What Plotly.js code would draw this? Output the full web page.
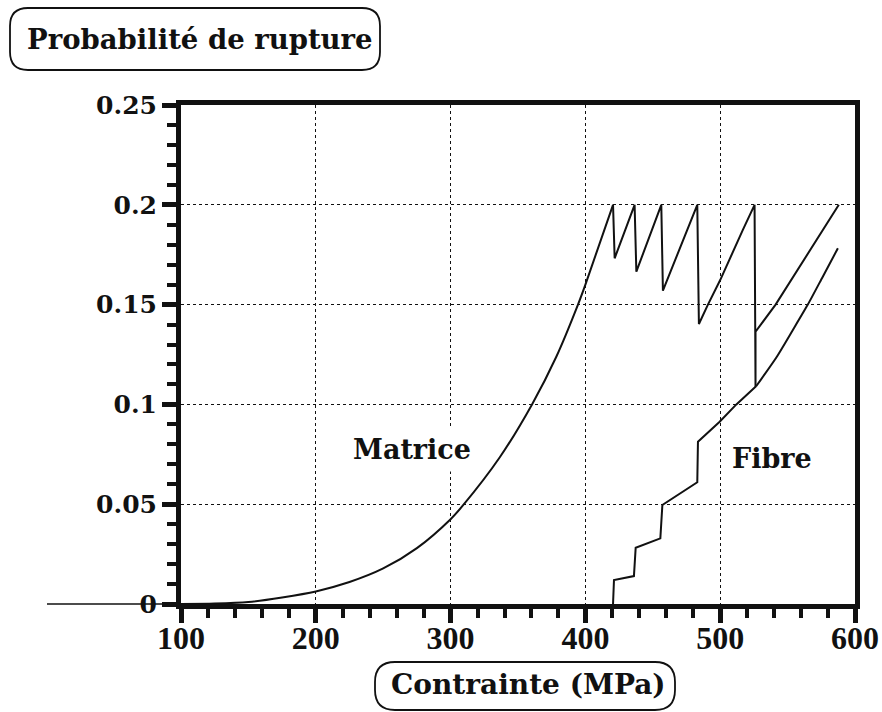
<!DOCTYPE html>
<html>
<head>
<meta charset="utf-8">
<script src="https://cdn.plot.ly/plotly-3.0.1.min.js"></script>
<style>html,body{margin:0;padding:0;background:#fff;}#chart{width:882px;height:712px;}</style>
</head>
<body>
<div id="chart"></div>
<script>
// Matrice (matrix) failure probability vs stress (MPa)
var matriceX = [100, 125, 150, 175, 200, 225, 250, 275, 300, 309.3, 336.5, 360.4, 378.5, 394.5, 400, 420.5, 421.7, 436.5, 437.8, 456.3, 457.5, 483.0, 484.2, 490.9, 500, 516.8, 525.5, 526.2, 526.2, 541.1, 576.1, 588.0];
var matriceY = [0, 0.0002, 0.001, 0.0033, 0.0063, 0.011, 0.0178, 0.028, 0.0425, 0.0495, 0.0735, 0.1, 0.124, 0.15, 0.16, 0.2, 0.1732, 0.2, 0.1665, 0.2, 0.157, 0.2, 0.1403, 0.15, 0.1623, 0.1874, 0.2, 0.1089, 0.1364, 0.15, 0.1874, 0.2];
// Fibre failure probability vs stress (MPa)
var fibreX = [420.5, 421.2, 436.0, 437.3, 455.6, 457.1, 483.0, 483.5, 499.6, 512, 526.8, 542.0, 553.9, 565.0, 576.1, 587.3];
var fibreY = [0, 0.012, 0.014, 0.0282, 0.0329, 0.0496, 0.061, 0.0813, 0.0913, 0.1, 0.1092, 0.1239, 0.1373, 0.15, 0.164, 0.1782];

var yTitle = "Probabilité de rupture";
var xTitle = "Contrainte (MPa)";
var seriesLabels = ["Matrice", "Fibre"];

// index where the smooth part of each curve ends / begins
var matriceSmoothEnd = 15;   // smooth rise up to the first peak
var fibreSmoothStart = 10;   // smooth rise after the last step

var W = 882, H = 712;
var M = {l: 181, r: 27, t: 105, b: 108};
var PW = W - M.l - M.r, PH = H - M.t - M.b;
function px2x(p){ return (p - M.l) / PW; }
function px2y(p){ return (H - M.b - p) / PH; }
function roundBox(x0, y0, x1, y1, r){
  var X0 = px2x(x0), X1 = px2x(x1), Y0 = px2y(y0), Y1 = px2y(y1);
  var rx = r / PW, ry = r / PH;
  return 'M' + (X0 + rx) + ',' + Y0 +
    ' L' + (X1 - rx) + ',' + Y0 +
    ' Q' + X1 + ',' + Y0 + ' ' + X1 + ',' + (Y0 - ry) +
    ' L' + X1 + ',' + (Y1 + ry) +
    ' Q' + X1 + ',' + Y1 + ' ' + (X1 - rx) + ',' + Y1 +
    ' L' + (X0 + rx) + ',' + Y1 +
    ' Q' + X0 + ',' + Y1 + ' ' + X0 + ',' + (Y1 + ry) +
    ' L' + X0 + ',' + (Y0 - ry) +
    ' Q' + X0 + ',' + Y0 + ' ' + (X0 + rx) + ',' + Y0 + ' Z';
}

var ink = '#111';
var traces = [
  {x: matriceX.slice(0, matriceSmoothEnd + 1), y: matriceY.slice(0, matriceSmoothEnd + 1), mode: 'lines',
   line: {color: ink, width: 2, shape: 'spline', smoothing: 0.8}, name: seriesLabels[0]},
  {x: matriceX.slice(matriceSmoothEnd), y: matriceY.slice(matriceSmoothEnd), mode: 'lines',
   line: {color: ink, width: 2}, name: seriesLabels[0]},
  {x: fibreX.slice(0, fibreSmoothStart + 1), y: fibreY.slice(0, fibreSmoothStart + 1), mode: 'lines',
   line: {color: ink, width: 2}, name: seriesLabels[1]},
  {x: fibreX.slice(fibreSmoothStart), y: fibreY.slice(fibreSmoothStart), mode: 'lines',
   line: {color: ink, width: 2, shape: 'spline', smoothing: 0.6}, name: seriesLabels[1]}
];

var serif = 'DejaVu Serif, serif';
var layout = {
  width: W, height: H,
  margin: M,
  paper_bgcolor: '#fff', plot_bgcolor: '#fff',
  showlegend: false,
  font: {family: serif, color: ink},
  xaxis: {
    range: [100, 600], dtick: 100, tick0: 100,
    showline: true, linewidth: 5, linecolor: ink, mirror: true,
    ticks: 'outside', ticklen: 14, tickwidth: 5, tickcolor: ink,
    ticklabelstandoff: -12,
    showgrid: true, gridcolor: ink, gridwidth: 1.2, griddash: 'dot',
    zeroline: false,
    tickfont: {family: 'Liberation Serif, serif', size: 32, color: ink, weight: 'bold'},
    minor: {dtick: 20, ticks: 'outside', ticklen: 9, tickwidth: 4, tickcolor: ink, showgrid: false}
  },
  yaxis: {
    range: [0, 0.25], dtick: 0.05, tick0: 0,
    showline: true, linewidth: 5, linecolor: ink, mirror: true,
    ticks: 'outside', ticklen: 14, tickwidth: 5, tickcolor: ink,
    showgrid: true, gridcolor: ink, gridwidth: 1.2, griddash: 'dot',
    zeroline: false,
    tickfont: {family: serif, size: 25, color: ink, weight: 'bold'},
    minor: {dtick: 0.01, ticks: 'outside', ticklen: 9, tickwidth: 4, tickcolor: ink, showgrid: false}
  },
  shapes: [
    {type: 'path', xref: 'paper', yref: 'paper', path: roundBox(10, 8, 380, 70, 18), line: {color: ink, width: 1.8}},
    {type: 'path', xref: 'paper', yref: 'paper', path: roundBox(375, 662, 675, 710, 20), line: {color: ink, width: 1.8}},
    {type: 'line', xref: 'paper', yref: 'paper', x0: px2x(47), x1: px2x(168), y0: 0, y1: 0, line: {color: ink, width: 1.5}}
  ],
  annotations: [
    {xref: 'paper', yref: 'paper', x: px2x(200), y: px2y(39), text: yTitle, showarrow: false,
     font: {family: serif, size: 27.5, color: ink, weight: 'bold'}, xanchor: 'center', yanchor: 'middle'},
    {xref: 'paper', yref: 'paper', x: px2x(528), y: px2y(684), text: xTitle, showarrow: false,
     font: {family: serif, size: 28, color: ink, weight: 'bold'}, xanchor: 'center', yanchor: 'middle'},
    {x: 271.2, y: 0.0772, text: seriesLabels[0], showarrow: false, bgcolor: '#fff', borderpad: 6,
     font: {family: serif, size: 27, color: ink, weight: 'bold'}},
    {x: 538.1, y: 0.0731, text: seriesLabels[1], showarrow: false, bgcolor: '#fff', borderpad: 2,
     font: {family: serif, size: 27, color: ink, weight: 'bold'}}
  ]
};

Plotly.newPlot('chart', traces, layout, {displayModeBar: false, staticPlot: true});
</script>
</body>
</html>
